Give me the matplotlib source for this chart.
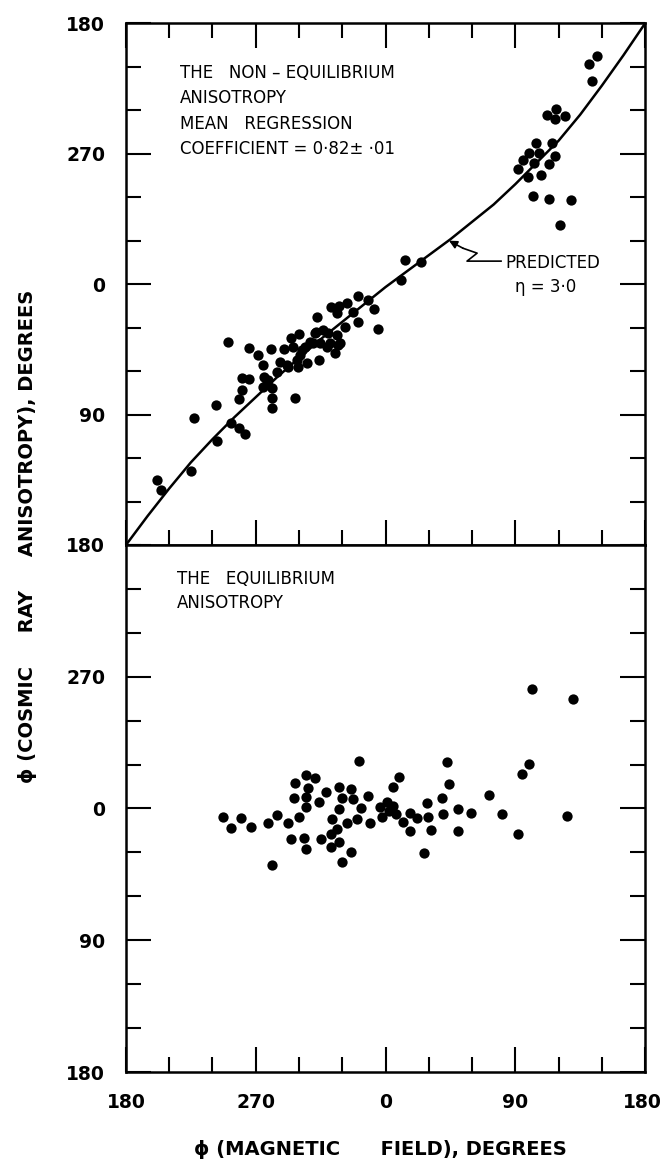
import numpy as np
import matplotlib.pyplot as plt
from matplotlib.ticker import MultipleLocator
from matplotlib.transforms import ScaledTranslation

# phase angles, plotted on a -180..180 scale (labels wrap 270 -> -90)
tick_pos = [-180, -90, 0, 90, 180]
x_labels = ['180', '270', '0', '90', '180']
y_labels = ['180', '90', '0', '270', '180']

# non-equilibrium anisotropy
neq_x = [-158.7, -155.9, -135.1, -132.8, -117.5, -116.6, -107.1, -101.4, -97.2, -109.0,
         -101.8, -99.7, -99.7, -94.9, -94.5, -88.2, -85.2, -84.3, -82.4, -78.9,
         -78.9, -79.2, -78.7, -75.5, -73.2, -70.4, -67.8, -65.3, -62.8, -60.0,
         -60.5, -59.3, -55.8, -54.6, -50.1, -47.3, -48.2, -45.9, -40.8, -37.8,
         -35.0, -32.0, -31.6, -28.1, -26.5, -19.3, -18.9, -8.0, -5.0, -22.3,
         -33.8, -68.5, -63.9, -61.6, -58.1, -52.4, -48.9, -45.4, -38.5, -32.7,
         -43.2, -39.7, -33.8, -81.3, -84.7, -11.9,
         10.5, 13.5, 24.4, 91.7, 95.1, 99.0, 99.7, 103.2, 104.4, 106.7,
         107.8, 113.6, 115.3, 117.5, 111.8, 118.2, 117.5, 124.5, 102.5, 113.6,
         128.6, 121.0, 141.3, 146.5, 143.4]
neq_y = [-135.2, -142.1, -128.8, -92.2, -83.7, -108.1, -96.1, -99.5, -103.4, -40.2,
         -79.5, -73.1, -65.0, -65.5, -43.9, -49.0, -56.1, -63.9, -68.5, -78.8,
         -85.7, -44.6, -71.9, -60.5, -53.6, -44.6, -57.0, -37.4, -78.8, -34.5,
         -57.0, -49.0, -43.2, -54.7, -40.9, -22.6, -32.9, -52.4, -43.2, -15.7,
         -47.8, -15.2, -40.9, -29.4, -13.3, -8.3, -26.0, -17.4, -31.2, -19.1,
         -20.2, -55.9, -43.2, -52.4, -45.5, -39.8, -34.0, -40.9, -40.9, -42.1,
         -31.7, -34.0, -35.2, -66.2, -70.8, -11.0,
         2.8, 16.6, 15.4, 79.8, 86.0, 74.0, 90.6, 83.9, 97.4, 90.6,
         75.2, 83.2, 97.4, 88.3, 117.0, 121.2, 114.3, 115.9, 60.7, 58.8,
         57.9, 40.5, 152.2, 157.7, 140.2]

# predicted relation, eta = 3.0
curve_x = [-180, -165, -150, -135, -120, -105, -90, -75, -60, -45, -30, -15, 0,
           15, 30, 45, 60, 75, 90, 105, 120, 135, 150, 165, 180]
curve_y = [-180, -160, -141, -123, -107, -92, -78, -64, -51, -38, -26, -14, -2,
           9, 20, 31, 43, 55, 69, 84, 99, 117, 137, 158, 180]

# equilibrium anisotropy
eq_x = [-112.5, -107.1, -100.2, -93.3, -81.7, -75.0, -78.5, -67.4, -65.5, -59.8,
        -63.5, -62.6, -55.3, -48.9, -53.5, -55.3, -55.1, -56.5, -55.1, -45.9,
        -41.3, -44.7, -38.0, -38.0, -32.5, -32.5, -37.1, -33.4, -32.2, -30.2,
        -23.9, -30.2, -26.9, -24.1, -22.5, -18.4, -20.0, -17.0, -12.3, -10.7,
        -3.8, -2.4, 0.8, 5.4, 2.6, 7.3, 5.4, 9.2, 11.9, 17.0,
        17.0, 21.6, 28.6, 29.7, 31.6, 26.7, 39.0, 40.1, 44.2, 42.4,
        50.1, 50.5, 59.1, 72.0, 80.6, 92.1, 94.9, 99.3, 101.6, 129.8,
        125.7]
eq_y = [-5.6, -13.5, -6.3, -12.8, -9.7, -4.4, -38.6, -10.1, -21.0, -6.0,
        7.0, 17.2, 22.9, 20.6, 14.2, 7.7, 1.2, -19.9, -27.9, 4.6,
        11.1, -21.0, -17.6, -26.1, 14.5, -0.5, -7.0, -14.2, -23.1, -36.7,
        -29.9, 7.0, -10.1, 13.1, 6.3, 32.7, -7.0, 0.5, 8.5, -10.1,
        0.8, -5.6, 4.6, 1.7, -1.5, -3.8, 14.9, 21.7, -9.0, -3.3,
        -15.2, -6.7, 3.6, -6.0, -14.7, -30.2, 7.4, -3.8, 16.7, 32.0,
        -0.3, -15.2, -3.3, 9.2, -3.8, -17.4, 23.6, 30.2, 81.8, 74.6,
        -5.1]

fig = plt.figure(figsize=(6.63, 11.67), dpi=100)
ax1 = fig.add_axes([0.190, 0.533, 0.783, 0.447])
ax2 = fig.add_axes([0.190, 0.0814, 0.783, 0.4516])

for ax in (ax1, ax2):
    ax.set_xlim(-180, 180)
    ax.set_ylim(-180, 180)
    ax.xaxis.set_major_locator(MultipleLocator(90))
    ax.yaxis.set_major_locator(MultipleLocator(90))
    ax.xaxis.set_minor_locator(MultipleLocator(30))
    ax.yaxis.set_minor_locator(MultipleLocator(30))
    for sp in ax.spines.values():
        sp.set_linewidth(1.8)
    ax.tick_params(which='major', direction='in', length=18, width=1.5,
                   labelsize=13.5, pad=15)
    ax.tick_params(which='minor', direction='in', length=11, width=1.5)

ax1.tick_params(which='both', top=True, bottom=True, left=True, right=True,
                labelbottom=False)
ax2.tick_params(which='both', top=False, bottom=True, left=True, right=True)

ax1.set_yticks(tick_pos)
ax1.set_yticklabels(y_labels, fontweight='bold')
ax2.set_yticks(tick_pos[:-1])
ax2.set_yticklabels(y_labels[:-1], fontweight='bold')
ax2.set_xticks(tick_pos)
ax2.set_xticklabels(x_labels, fontweight='bold')
# keep the last x label inside the figure edge
last = ax2.get_xticklabels()[-1]
last.set_transform(last.get_transform() + ScaledTranslation(-3 / 100, 0, fig.dpi_scale_trans))

# top panel
ax1.plot(curve_x, curve_y, color='black', lw=1.8, zorder=2)
ax1.scatter(neq_x, neq_y, s=55, c='black', linewidths=0, zorder=3)

txt = dict(fontsize=12, va='center', ha='left', transform=ax1.transAxes)
ax1.text(0.104, 0.904, 'THE   NON – EQUILIBRIUM', **txt)
ax1.text(0.104, 0.856, 'ANISOTROPY', **txt)
ax1.text(0.104, 0.807, 'MEAN   REGRESSION', **txt)
ax1.text(0.104, 0.759, 'COEFFICIENT = 0·82± ·01', **txt)

ax1.text(0.730, 0.540, 'PREDICTED', **txt)
ax1.text(0.749, 0.494, 'η = 3·0', **txt)
ax1.plot([80.1, 56.5, 63.5, 53.7], [15.9, 15.9, 21.4, 24.8], color='black', lw=1.2)
ax1.annotate('', xy=(44.0, 30.0), xytext=(53.7, 24.8),
             arrowprops=dict(arrowstyle='-|>', color='black', lw=1.2,
                             mutation_scale=12, shrinkA=0, shrinkB=0))

# bottom panel
ax2.scatter(eq_x, eq_y, s=55, c='black', linewidths=0, zorder=3)
txt2 = dict(fontsize=12, va='center', ha='left', transform=ax2.transAxes)
ax2.text(0.098, 0.935, 'THE   EQUILIBRIUM', **txt2)
ax2.text(0.098, 0.890, 'ANISOTROPY', **txt2)

fig.text(0.573, 0.0146, 'ϕ (MAGNETIC      FIELD), DEGREES', fontsize=14,
         fontweight='bold', ha='center', va='center')
fig.text(0.041, 0.54, 'ϕ (COSMIC     RAY     ANISOTROPY), DEGREES', fontsize=14,
         fontweight='bold', ha='center', va='center', rotation=90)

fig.savefig('out.png', dpi=100)
